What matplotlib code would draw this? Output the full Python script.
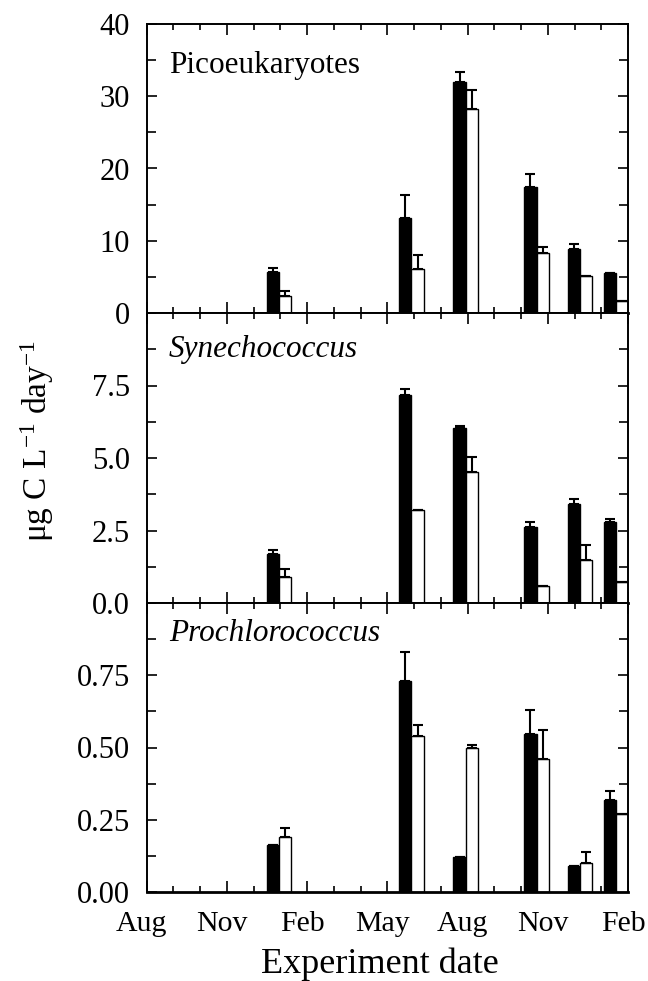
import matplotlib
matplotlib.use("Agg")
import matplotlib.pyplot as plt
from matplotlib.ticker import MultipleLocator
import matplotlib.transforms as mtransforms
import numpy as np

plt.rcParams['font.family'] = ['Liberation Serif', 'DejaVu Serif']
plt.rcParams['mathtext.fontset'] = 'custom'
plt.rcParams['mathtext.rm'] = 'Liberation Serif'
plt.rcParams['mathtext.it'] = 'Liberation Serif:italic'
plt.rcParams['mathtext.default'] = 'regular'

# Experiment dates, in months since 1 August of the first year
exp_month = [4.95, 9.9, 11.93, 14.58, 16.21, 17.56]
month_labels = ['Aug', 'Nov', 'Feb', 'May', 'Aug', 'Nov', 'Feb']

# Picoeukaryotes (black = first treatment, white = second)
pico_black = [5.66, 13.2, 32.0, 17.4, 8.9, 5.6]
pico_black_err = [0.55, 3.1, 1.3, 1.8, 0.6, 0.0]
pico_white = [2.4, 6.07, 28.3, 8.3, 5.15, 1.7]
pico_white_err = [0.7, 1.9, 2.6, 0.9, 0.0, 0.0]

# Synechococcus
syn_black = [1.69, 7.16, 6.04, 2.61, 3.40, 2.80]
syn_black_err = [0.15, 0.21, 0.05, 0.19, 0.18, 0.10]
syn_white = [0.88, 3.21, 4.53, 0.60, 1.47, 0.71]
syn_white_err = [0.29, 0.0, 0.50, 0.0, 0.53, 0.0]

# Prochlorococcus
pro_black = [0.161, 0.730, 0.121, 0.548, 0.090, 0.319]
pro_black_err = [0.0, 0.099, 0.0, 0.082, 0.0, 0.030]
pro_white = [0.191, 0.539, 0.499, 0.459, 0.100, 0.270]
pro_white_err = [0.029, 0.039, 0.010, 0.100, 0.040, 0.0]

panels = [
    ('Picoeukaryotes', 'normal', pico_black, pico_black_err, pico_white, pico_white_err,
     (0, 40), [0, 10, 20, 30, 40], 5, lambda v: f'{v:.0f}', 0.83),
    ('Synechococcus', 'italic', syn_black, syn_black_err, syn_white, syn_white_err,
     (0, 10), [0, 2.5, 5.0, 7.5], 1.25, lambda v: f'{v:.1f}', 0.849),
    ('Prochlorococcus', 'italic', pro_black, pro_black_err, pro_white, pro_white_err,
     (0, 1.0), [0, 0.25, 0.5, 0.75], 0.125, lambda v: f'{v:.2f}', 0.87),
]

W, H = 648, 981
fig = plt.figure(figsize=(W / 100, H / 100), dpi=100)

left = 146.7 / W
width = (628 - 146.7) / W
edges = [24, 313, 603, 892]
bw = 0.46
x = np.array(exp_month)

for i, (name, style, b, be, w, we, ylim, yt, minor, fmt, ty) in enumerate(panels):
    top_px, bot_px = edges[i], edges[i + 1]
    ax = fig.add_axes([left, 1 - bot_px / H, width, (bot_px - top_px) / H])
    ax.bar(x - bw / 2, b, width=bw, color='black', edgecolor='black', linewidth=1.0, zorder=2)
    ax.bar(x + bw / 2, w, width=bw, color='white', edgecolor='black', linewidth=1.0, zorder=2)
    ax.errorbar(x - bw / 2, b, yerr=[np.zeros(len(be)), be], fmt='none', ecolor='black',
                elinewidth=1.5, capsize=3.5, capthick=1.5, zorder=3)
    ax.errorbar(x + bw / 2, w, yerr=[np.zeros(len(we)), we], fmt='none', ecolor='black',
                elinewidth=1.5, capsize=3.5, capthick=1.5, zorder=3)
    ax.set_xlim(0, 18)
    ax.set_ylim(*ylim)
    ax.set_yticks(yt)
    ax.set_yticklabels([fmt(v) for v in yt])
    ax.yaxis.set_minor_locator(MultipleLocator(minor))
    ax.set_xticks(np.arange(0, 19, 3))
    ax.xaxis.set_minor_locator(MultipleLocator(1))
    if i == 2:
        ax.set_xticklabels(month_labels)
    else:
        ax.set_xticklabels([])
    ax.tick_params(axis='both', which='both', direction='in', top=True, right=True,
                   width=1.2, labelsize=22)
    ax.tick_params(axis='x', which='major', length=8, pad=14, labelsize=21.5)
    ax.tick_params(axis='x', which='minor', length=4.5)
    ax.tick_params(axis='y', which='major', length=7, pad=12)
    ax.tick_params(axis='y', which='minor', length=6.5)
    for s in ax.spines.values():
        s.set_linewidth(1.4)
    ax.spines['bottom'].set_linewidth(2.0)
    ax.text(0.046, ty, name, transform=ax.transAxes, fontsize=22.5, fontstyle=style,
            ha='left', va='baseline')
    if i == 2:
        shift = mtransforms.ScaledTranslation(-5 / 100, 0, fig.dpi_scale_trans)
        for lab in ax.get_xticklabels():
            lab.set_transform(lab.get_transform() + shift)

fig.text(380 / W, 1 - 973 / H, 'Experiment date', ha='center', va='baseline', fontsize=26)
fig.text(37 / W, 1 - 441 / H, 'μg C L$^{-1}$ day$^{-1}$', rotation=90,
         ha='center', va='center', fontsize=24)

fig.savefig('out.png', dpi=100)
